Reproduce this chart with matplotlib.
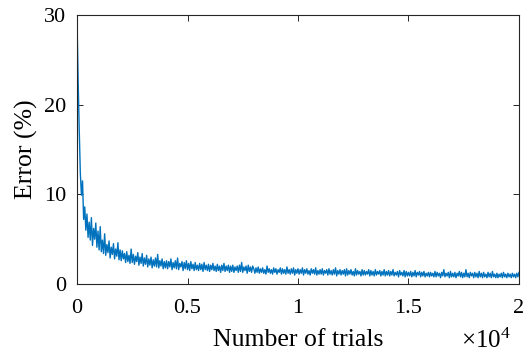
import matplotlib
matplotlib.use("Agg")
import matplotlib.pyplot as plt
import numpy as np

plt.rcParams['font.family'] = ['Liberation Serif', 'DejaVu Serif']
plt.rcParams['mathtext.fontset'] = 'custom'
plt.rcParams['mathtext.rm'] = 'Liberation Serif'
plt.rcParams['mathtext.it'] = 'Liberation Serif:italic'

trial_step = 50
error_pct = [
    29.5, 22.8, 17.2, 12.4, 9.9, 11.5, 7.2, 8.6, 6.0, 7.8, 5.2, 6.9, 4.9, 7.4, 4.3, 6.2, 5.0, 6.8, 4.1, 5.9,
    3.8, 6.4, 3.6, 4.9, 3.4, 5.6, 3.2, 4.4, 3.5, 4.8, 2.9, 4.1, 3.3, 4.5, 2.8, 3.9, 3.1, 4.6, 2.7, 3.8,
    2.6, 3.7, 2.8, 3.4, 2.4, 3.6, 2.5, 3.2, 2.3, 3.9, 2.4, 3.3, 2.2, 3.1, 2.5, 3.5, 2.1, 3.0, 2.3, 3.4,
    2.0, 2.9, 2.2, 3.2, 1.9, 2.8, 2.1, 3.0, 1.8, 2.7, 2.0, 2.9, 1.9, 3.3, 1.8, 2.6, 2.0, 2.8, 1.7, 2.5,
    1.8, 2.6, 1.7, 2.5, 1.9, 2.8, 1.6, 2.4, 1.8, 2.6, 1.7, 2.9, 1.6, 2.3, 1.9, 2.5, 1.5, 2.4, 1.7, 2.6,
    1.6, 2.3, 1.5, 2.5, 1.7, 2.2, 1.5, 2.4, 1.6, 2.1, 1.5, 2.3, 1.6, 2.2, 1.4, 2.4, 1.6, 2.1, 1.5, 2.2,
    1.4, 2.1, 1.6, 2.3, 1.5, 2.0, 1.4, 2.2, 1.5, 2.0, 1.3, 2.1, 1.5, 2.3, 1.4, 2.0, 1.5, 2.1, 1.3, 2.0,
    1.4, 2.1, 1.3, 1.9, 1.5, 2.0, 1.3, 2.1, 1.4, 2.4, 1.3, 1.9, 1.5, 2.0, 1.2, 2.1, 1.4, 1.9, 1.3, 2.0,
    1.7, 1.2, 1.8, 1.3, 1.9, 1.2, 1.7, 1.3, 1.8, 1.2, 1.6, 1.1, 2.0, 1.3, 1.7, 1.2, 1.6, 1.1, 1.8, 1.3,
    1.7, 1.1, 1.6, 1.3, 1.8, 1.1, 1.7, 1.2, 1.6, 1.1, 1.9, 1.2, 1.6, 1.1, 1.7, 1.2, 1.8, 1.0, 1.6, 1.2,
    1.7, 1.1, 1.6, 1.2, 1.8, 1.0, 1.6, 1.2, 1.7, 1.1, 1.5, 1.0, 1.7, 1.2, 1.6, 1.1, 1.8, 1.0, 1.5, 1.1,
    1.6, 1.1, 1.7, 1.0, 1.5, 1.2, 1.6, 1.0, 1.7, 1.1, 1.5, 1.0, 1.6, 1.1, 1.8, 0.9, 1.5, 1.1, 1.6, 1.0,
    1.5, 1.1, 1.6, 0.9, 1.7, 1.0, 1.5, 1.1, 1.6, 1.0, 1.4, 0.9, 1.7, 1.0, 1.5, 1.1, 1.4, 0.9, 1.6, 1.0,
    1.5, 1.0, 1.4, 1.1, 1.6, 0.9, 1.5, 1.0, 1.4, 0.9, 1.6, 1.0, 1.4, 1.1, 1.5, 0.9, 1.4, 1.0, 1.6, 0.9,
    1.4, 1.0, 1.5, 0.9, 1.4, 1.0, 1.6, 0.9, 1.3, 1.0, 1.4, 0.8, 1.5, 1.0, 1.3, 0.9, 1.5, 0.8, 1.4, 0.9,
    1.3, 0.9, 1.4, 0.8, 1.3, 0.9, 1.5, 0.8, 1.3, 1.0, 1.4, 0.8, 1.3, 0.9, 1.4, 0.8, 1.2, 0.9, 1.3, 0.8,
    1.3, 0.9, 1.2, 0.8, 1.4, 0.8, 1.3, 0.9, 1.2, 0.7, 1.3, 0.9, 1.6, 0.8, 1.2, 0.9, 1.3, 0.7, 1.4, 0.8,
    1.2, 0.8, 1.3, 0.7, 1.2, 0.9, 1.4, 0.8, 1.3, 0.7, 1.2, 0.8, 1.6, 0.8, 1.2, 0.7, 1.3, 0.9, 1.2, 0.7,
    1.3, 0.8, 1.2, 0.7, 1.4, 0.8, 1.2, 0.7, 1.3, 0.8, 1.1, 0.7, 1.3, 0.8, 1.2, 0.7, 1.4, 0.8, 1.1, 0.7,
    1.2, 0.7, 1.1, 0.8, 1.2, 0.7, 1.3, 0.8, 1.1, 0.7, 1.2, 0.8, 1.1, 0.7, 1.2, 0.8, 1.1, 0.7, 1.2, 0.8,
    1.3,
]
trials = np.arange(len(error_pct)) * trial_step

x_ticks = [0, 5000, 10000, 15000, 20000]
x_tick_labels = ['0', '0.5', '1', '1.5', '2']
y_ticks = [0, 10, 20, 30]
y_tick_labels = ['0', '10', '20', '30']

fig = plt.figure(figsize=(5.30, 3.59), dpi=100)
ax = fig.add_axes([0.1453, 0.2089, 0.8339, 0.7493])
ax.plot(trials, error_pct, color='#0072BD', lw=1.0)

ax.set_xlim(0, 20000)
ax.set_ylim(0, 30)
ax.set_xticks(x_ticks)
ax.set_xticklabels(x_tick_labels)
ax.set_yticks(y_ticks)
ax.set_yticklabels(y_tick_labels)
ax.tick_params(direction='in', length=4, width=0.7, colors='#262626',
               labelsize=16, top=True, right=True, labelcolor='black')
ax.tick_params(axis='x', pad=11)
ax.tick_params(axis='y', pad=8)
for s in ax.spines.values():
    s.set_color('#262626')
    s.set_linewidth(0.8)

ax.set_xlabel('Number of trials', fontsize=18.5, labelpad=8)
ax.set_ylabel('Error (%)', fontsize=18.5, labelpad=4)
fig.text(0.963, 0.018, r'$\times10^{4}$', ha='right', va='bottom', fontsize=18)

fig.savefig('out.png', dpi=100)
